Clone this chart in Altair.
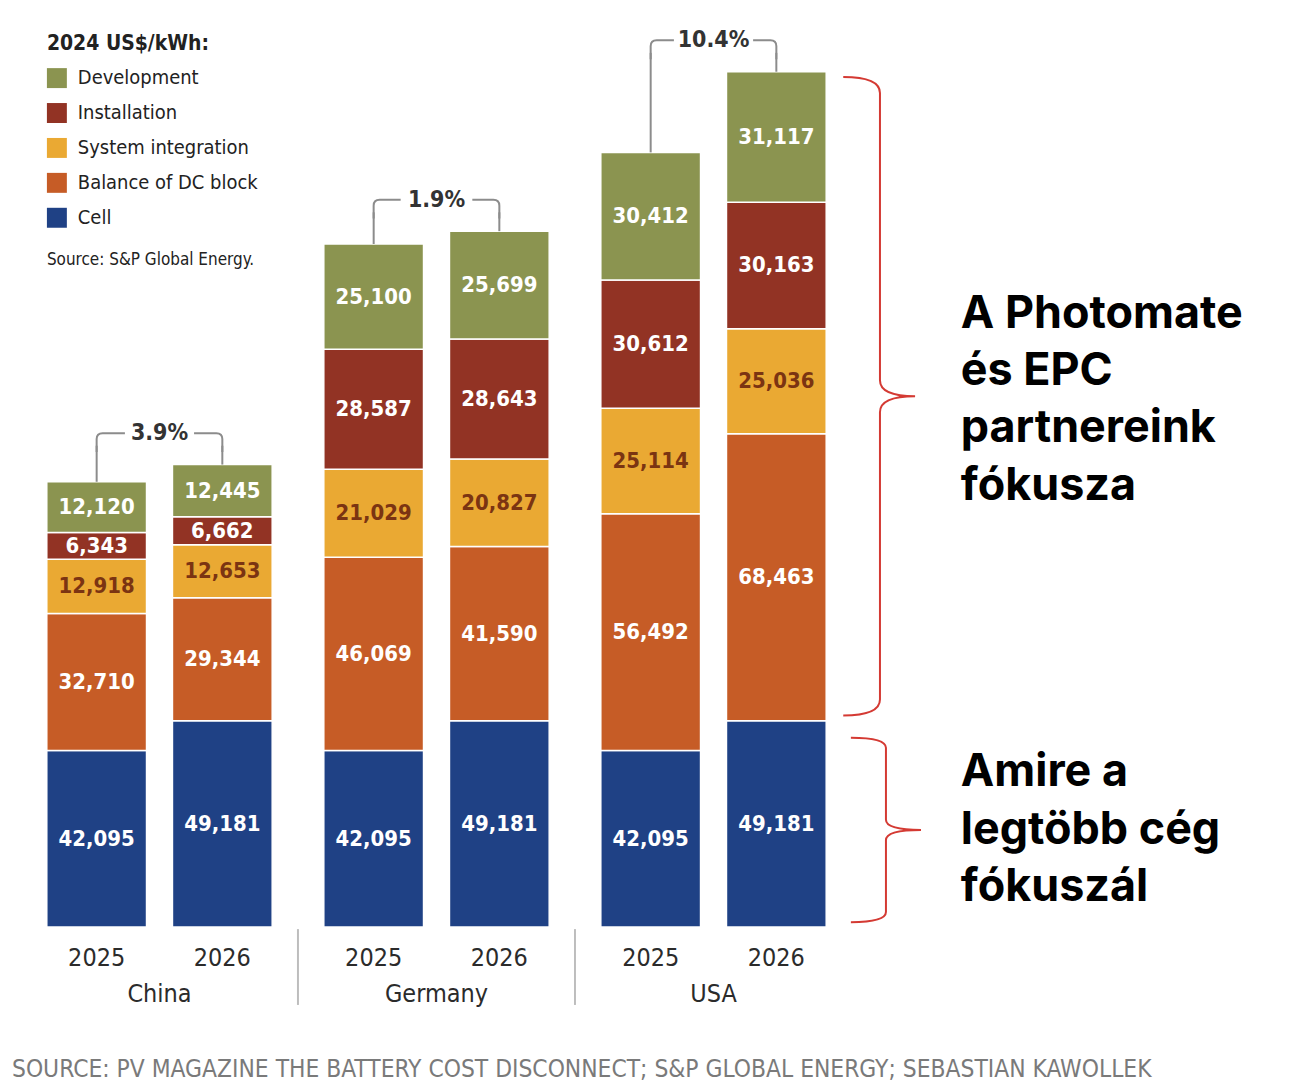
import altair as alt
import pandas as pd

# ---------------- data ----------------
countries = ["China", "Germany", "USA"]
years = ["2025", "2026"]
# bar order: China 2025, China 2026, Germany 2025, Germany 2026, USA 2025, USA 2026
bar_country = ["China", "China", "Germany", "Germany", "USA", "USA"]
bar_year = ["2025", "2026", "2025", "2026", "2025", "2026"]

# stacked bottom -> top
stack_order = ["Cell", "Balance of DC block", "System integration", "Installation", "Development"]
cell = [42095, 49181, 42095, 49181, 42095, 49181]
balance_dc = [32710, 29344, 46069, 41590, 56492, 68463]
system_integration = [12918, 12653, 21029, 20827, 25114, 25036]
installation = [6343, 6662, 28587, 28643, 30612, 30163]
development = [12120, 12445, 25100, 25699, 30412, 31117]

pct_labels = ["3.9%", "1.9%", "10.4%"]

legend_order = ["Development", "Installation", "System integration", "Balance of DC block", "Cell"]
legend_colors = ["#8b9450", "#923324", "#eaa933", "#c65c26", "#1f4185"]

series = {
    "Cell": cell,
    "Balance of DC block": balance_dc,
    "System integration": system_integration,
    "Installation": installation,
    "Development": development,
}

# ---------------- tables built from the arrays ----------------
rows = []
for i in range(6):
    base = 0
    for cat in stack_order:
        v = series[cat][i]
        rows.append(dict(country=bar_country[i], year=bar_year[i], cat=cat,
                         value=v, v0=base, v1=base + v, mid=base + v / 2))
        base += v
seg = pd.DataFrame(rows)

tot = seg.groupby(["country", "year"], as_index=False)["value"].sum().rename(columns={"value": "total"})
grp_max = tot.groupby("country")["total"].max()
BRACKET_OFF = 7500
tot["level"] = tot["country"].map(grp_max) + BRACKET_OFF
tot["leg_top"] = tot["level"] - 3000

grp = pd.DataFrame(dict(country=countries, pct=pct_labels,
                        level=[grp_max[c] + BRACKET_OFF for c in countries]))

usa26 = seg[(seg.country == "USA") & (seg.year == "2026")]
usa_cell = usa26[usa26.cat == "Cell"]["value"].iloc[0]
usa_total = usa26["value"].sum()
brace_upper = pd.DataFrame(dict(mid=[(usa_cell + usa_total) / 2]))
brace_lower = pd.DataFrame(dict(mid=[usa_cell / 2]))

years_df = pd.DataFrame(dict(country=bar_country, year=bar_year))
sep_df = pd.DataFrame(dict(country=countries[1:]))
one = pd.DataFrame(dict(a=[0]))

# ---------------- geometry ----------------
W, H = 833, 908
NARROW = "DejaVu Sans Condensed, Roboto, sans-serif"

xs = alt.Scale(domain=countries, paddingInner=0.1863, paddingOuter=0.0932)
xos = alt.Scale(domain=years, paddingInner=0.2063, paddingOuter=0)
ys = alt.Scale(domain=[0, 216000], nice=False, zero=True)

X = alt.X("country:N", scale=xs, axis=None)
XO = alt.XOffset("year:N", scale=xos)

bars = alt.Chart(seg).mark_bar(stroke="white", strokeWidth=1.5).encode(
    x=X, xOffset=XO,
    y=alt.Y("v0:Q", scale=ys, axis=None), y2="v1:Q",
    color=alt.Color("cat:N", scale=alt.Scale(domain=legend_order, range=legend_colors),
                    legend=alt.Legend(title="2024 US$/kWh:", orient="none", legendX=26, legendY=12)),
)

labels = alt.Chart(seg).mark_text(font=NARROW, fontSize=22, fontWeight="bold", baseline="middle").encode(
    x=X, xOffset=XO,
    y=alt.Y("mid:Q", scale=ys),
    text=alt.Text("value:Q", format=",d"),
    color=alt.condition("datum.cat == 'System integration'", alt.value("#7b3412"), alt.value("white")),
)

legs = alt.Chart(tot).mark_rule(color="#8c8c8c", strokeWidth=2).encode(
    x=X, xOffset=XO,
    y=alt.Y("total:Q", scale=ys), y2="leg_top:Q",
)

def bracket_path(g):
    return (f"M -1 0.3 L -1 0.095 Q -1 0 -0.905 0 L -{g} 0 "
            f"M {g} 0 L 0.905 0 Q 1 0 1 0.095 L 1 0.3")

tops = alt.Chart(grp).mark_point(filled=False, stroke="#8c8c8c", strokeWidth=2, opacity=1).encode(
    x=X,
    y=alt.Y("level:Q", scale=ys),
    shape=alt.Shape("country:N", scale=alt.Scale(domain=countries,
                    range=[bracket_path(0.55), bracket_path(0.57), bracket_path(0.63)]), legend=None),
    size=alt.value(126 * 126),
)

pcts = alt.Chart(grp).mark_text(font=NARROW, fontSize=23, fontWeight="bold", color="#333333",
                                baseline="middle").encode(
    x=X, y=alt.Y("level:Q", scale=ys), text="pct:N",
)

year_lbl = alt.Chart(years_df).mark_text(font=NARROW, fontSize=25, color="#2b2b2b",
                                         baseline="alphabetic").encode(
    x=X, xOffset=XO, y=alt.value(H + 39), text="year:N",
)

country_lbl = alt.Chart(pd.DataFrame(dict(country=countries))).mark_text(
    font=NARROW, fontSize=25, color="#2b2b2b", baseline="alphabetic").encode(
    x=X, y=alt.value(H + 75), text="country:N",
)

seps = alt.Chart(sep_df).mark_rule(color="#bdbdbd", strokeWidth=2, xOffset=-25.9).encode(
    x=alt.X("country:N", scale=xs, axis=None, bandPosition=0),
    y=alt.value(H + 2), y2=alt.value(H + 78),
)

src_small = alt.Chart(one).mark_text(font=NARROW, fontSize=17, color="#222222", align="left",
                                     baseline="alphabetic").encode(
    x=alt.value(26), y=alt.value(244), text=alt.value("Source: S&P Global Energy."),
)

upper_path = "M -0.115 -1 Q 0 -1 0 -0.95 L 0 -0.05 Q 0 0 0.11 0 Q 0 0 0 0.05 L 0 0.95 Q 0 1 -0.115 1"
lower_path = "M -0.38 -1 Q 0 -1 0 -0.89 L 0 -0.11 Q 0 0 0.38 0 Q 0 0 0 0.11 L 0 0.89 Q 0 1 -0.38 1"

brace1 = alt.Chart(brace_upper).mark_point(shape=upper_path, filled=False, stroke="#d43a33",
                                           strokeWidth=2, opacity=1).encode(
    x=alt.value(861), y=alt.Y("mid:Q", scale=ys), size=alt.value(640 * 640),
)
brace2 = alt.Chart(brace_lower).mark_point(shape=lower_path, filled=False, stroke="#d43a33",
                                           strokeWidth=2, opacity=1, yOffset=6).encode(
    x=alt.value(867), y=alt.Y("mid:Q", scale=ys), size=alt.value(185 * 185),
)

note1 = alt.Chart(one).mark_text(font="Inter", fontSize=45, fontWeight="bold", color="#000000",
                                 align="left", baseline="alphabetic", lineHeight=57.5).encode(
    x=alt.value(942), y=alt.value(307),
    text=alt.value(["A Photomate", "és EPC", "partnereink", "fókusza"]),
)
note2 = alt.Chart(one).mark_text(font="Inter", fontSize=45, fontWeight="bold", color="#000000",
                                 align="left", baseline="alphabetic", lineHeight=57.5).encode(
    x=alt.value(942), y=alt.value(767),
    text=alt.value(["Amire a", "legtöbb cég", "fókuszál"]),
)

src_bottom = alt.Chart(one).mark_text(font=NARROW, fontSize=24.4, color="#7a7a7a", align="left",
                                      baseline="alphabetic").encode(
    x=alt.value(-9), y=alt.value(H + 150),
    text=alt.value("SOURCE: PV MAGAZINE THE BATTERY COST DISCONNECT; S&P GLOBAL ENERGY; SEBASTIAN KAWOLLEK"),
)

chart = alt.layer(
    bars, labels, legs, tops, pcts, year_lbl, country_lbl, seps,
    src_small, brace1, brace2, note1, note2, src_bottom,
).properties(
    width=W, height=H,
    autosize=alt.AutoSizeParams(type="none"),
    padding={"left": 13, "top": 12, "right": 440, "bottom": 160},
    background="white",
).configure_view(stroke=None).configure_legend(
    titleFont=NARROW, titleFontSize=21, titleFontWeight="bold", titleColor="#222222",
    labelFont=NARROW, labelFontSize=20, labelColor="#222222", labelLimit=400,
    symbolType="square", symbolSize=400, symbolStrokeWidth=0, symbolOpacity=1,
    rowPadding=15, titlePadding=14, labelOffset=11, padding=0,
)

chart.save("out.html", embed_options={"renderer": "svg", "actions": False})
